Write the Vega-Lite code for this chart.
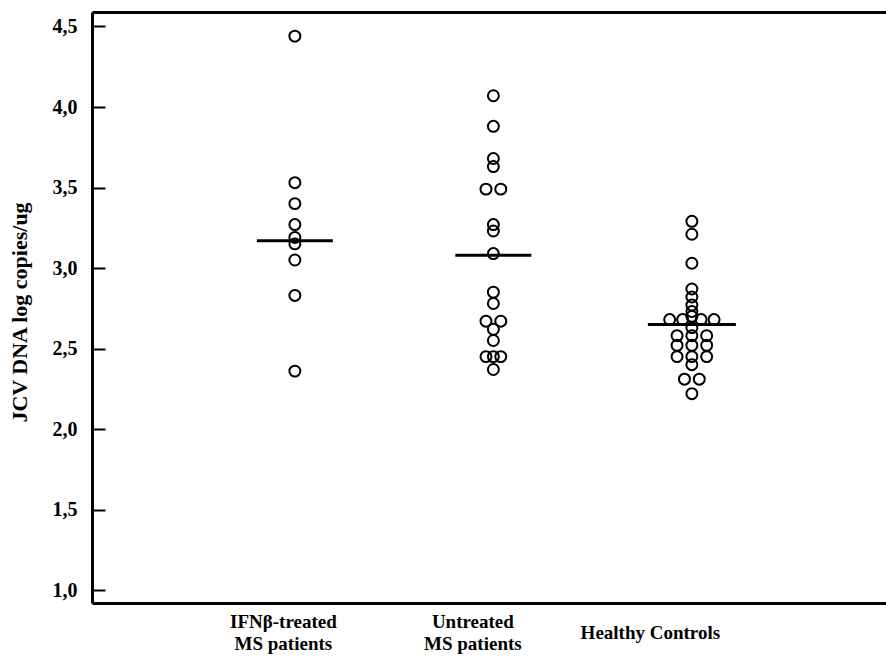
{
  "$schema": "https://vega.github.io/schema/vega-lite/v6.json",
  "width": 794,
  "height": 591,
  "autosize": "none",
  "padding": {"left": 92, "top": 12, "right": 0, "bottom": 59},
  "background": "white",
  "config": {"view": {"stroke": null}, "font": "Liberation Serif"},
  "datasets": {
    "points": [
      {"group": "IFN", "value": 4.44, "slot": 0},
      {"group": "IFN", "value": 3.53, "slot": 0},
      {"group": "IFN", "value": 3.40, "slot": 0},
      {"group": "IFN", "value": 3.27, "slot": 0},
      {"group": "IFN", "value": 3.19, "slot": 0},
      {"group": "IFN", "value": 3.15, "slot": 0},
      {"group": "IFN", "value": 3.05, "slot": 0},
      {"group": "IFN", "value": 2.83, "slot": 0},
      {"group": "IFN", "value": 2.36, "slot": 0},
      {"group": "Untreated", "value": 4.07, "slot": 0},
      {"group": "Untreated", "value": 3.88, "slot": 0},
      {"group": "Untreated", "value": 3.68, "slot": 0},
      {"group": "Untreated", "value": 3.63, "slot": 0},
      {"group": "Untreated", "value": 3.49, "slot": -1},
      {"group": "Untreated", "value": 3.49, "slot": 1},
      {"group": "Untreated", "value": 3.27, "slot": 0},
      {"group": "Untreated", "value": 3.23, "slot": 0},
      {"group": "Untreated", "value": 3.09, "slot": 0},
      {"group": "Untreated", "value": 2.85, "slot": 0},
      {"group": "Untreated", "value": 2.78, "slot": 0},
      {"group": "Untreated", "value": 2.67, "slot": -1},
      {"group": "Untreated", "value": 2.67, "slot": 1},
      {"group": "Untreated", "value": 2.62, "slot": 0},
      {"group": "Untreated", "value": 2.55, "slot": 0},
      {"group": "Untreated", "value": 2.45, "slot": -1},
      {"group": "Untreated", "value": 2.45, "slot": 0},
      {"group": "Untreated", "value": 2.45, "slot": 1},
      {"group": "Untreated", "value": 2.37, "slot": 0},
      {"group": "Healthy", "value": 3.29, "slot": 0},
      {"group": "Healthy", "value": 3.21, "slot": 0},
      {"group": "Healthy", "value": 3.03, "slot": 0},
      {"group": "Healthy", "value": 2.87, "slot": 0},
      {"group": "Healthy", "value": 2.82, "slot": 0},
      {"group": "Healthy", "value": 2.77, "slot": 0},
      {"group": "Healthy", "value": 2.73, "slot": 0},
      {"group": "Healthy", "value": 2.70, "slot": 0},
      {"group": "Healthy", "value": 2.68, "slot": -3},
      {"group": "Healthy", "value": 2.68, "slot": -1.25},
      {"group": "Healthy", "value": 2.68, "slot": 1.25},
      {"group": "Healthy", "value": 2.68, "slot": 3},
      {"group": "Healthy", "value": 2.63, "slot": 0},
      {"group": "Healthy", "value": 2.58, "slot": -2},
      {"group": "Healthy", "value": 2.58, "slot": 0},
      {"group": "Healthy", "value": 2.58, "slot": 2},
      {"group": "Healthy", "value": 2.52, "slot": -2},
      {"group": "Healthy", "value": 2.52, "slot": 0},
      {"group": "Healthy", "value": 2.52, "slot": 2},
      {"group": "Healthy", "value": 2.45, "slot": -2},
      {"group": "Healthy", "value": 2.45, "slot": 0},
      {"group": "Healthy", "value": 2.45, "slot": 2},
      {"group": "Healthy", "value": 2.40, "slot": 0},
      {"group": "Healthy", "value": 2.31, "slot": -1},
      {"group": "Healthy", "value": 2.31, "slot": 1},
      {"group": "Healthy", "value": 2.22, "slot": 0}
    ],
    "means": [
      {"group": "IFN", "value": 3.17},
      {"group": "Untreated", "value": 3.08},
      {"group": "Healthy", "value": 2.65}
    ]
  },
  "layer": [
    {
      "data": {"name": "points"},
      "mark": {"type": "point", "shape": "circle", "filled": false, "stroke": "black", "strokeWidth": 2, "size": 120, "opacity": 1},
      "encoding": {
        "x": {
          "field": "group", "type": "nominal", "sort": ["IFN", "Untreated", "Healthy"],
          "scale": {"type": "point", "padding": 1.052, "align": 0.511},
          "axis": {
            "orient": "bottom", "title": null, "ticks": false, "labelAngle": 0,
            "domainColor": "black", "domainWidth": 3,
            "labelExpr": "datum.value == 'IFN' ? ['IFNβ-treated', 'MS patients'] : datum.value == 'Untreated' ? ['Untreated', 'MS patients'] : 'Healthy Controls'",
            "labelFont": "Liberation Serif", "labelFontWeight": "bold", "labelFontSize": 19, "labelColor": "black",
            "labelBaseline": "middle", "labelLineHeight": 22,
            "labelPadding": {"condition": {"test": "datum.value == 'Healthy'", "value": 29}, "value": 18},
            "labelOffset": {"condition": [{"test": "datum.value == 'IFN'", "value": -12}, {"test": "datum.value == 'Untreated'", "value": -21}], "value": -42}
          }
        },
        "xOffset": {"field": "slot", "type": "quantitative", "scale": {"domain": [-3, 3], "range": [-22.2, 22.2]}},
        "y": {
          "field": "value", "type": "quantitative",
          "scale": {"domain": [0.92, 4.59], "nice": false, "zero": false},
          "axis": {
            "values": [1, 1.5, 2, 2.5, 3, 3.5, 4, 4.5],
            "labelExpr": "replace(format(datum.value, '.1f'), '.', ',')",
            "labelFont": "Liberation Serif", "labelFontWeight": "bold", "labelFontSize": 20, "labelColor": "black",
            "labelPadding": 28, "tickSize": -13, "tickWidth": 2, "tickColor": "black",
            "domainColor": "black", "domainWidth": 3, "grid": false,
            "title": "JCV DNA log copies/ug", "titleFont": "Liberation Serif", "titleFontWeight": "bold",
            "titleFontSize": 22, "titleColor": "black", "titleX": -73, "titleY": 300, "titleAngle": -90,
            "titleBaseline": "middle", "titleAlign": "center"
          }
        }
      }
    },
    {
      "data": {"name": "means"},
      "mark": {"type": "tick", "thickness": 3, "color": "black", "opacity": 1},
      "encoding": {
        "x": {
          "field": "group", "type": "nominal", "sort": ["IFN", "Untreated", "Healthy"],
          "axis": {"orient": "top", "labels": false, "ticks": false, "title": null, "domainColor": "black", "domainWidth": 3}
        },
        "y": {"field": "value", "type": "quantitative"},
        "size": {"condition": {"test": "datum.group == 'Healthy'", "value": 88}, "value": 76}
      }
    }
  ],
  "resolve": {"axis": {"x": "independent"}}
}
